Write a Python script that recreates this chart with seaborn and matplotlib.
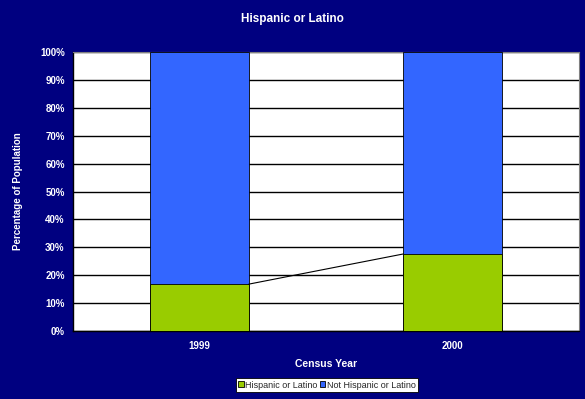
import matplotlib
matplotlib.use("Agg")
import matplotlib.pyplot as plt
import seaborn as sns
import pandas as pd
import numpy as np
from matplotlib.ticker import PercentFormatter
from matplotlib.patches import Patch

years = ["1999", "2000"]
hispanic = [16.8, 27.6]
not_hispanic = [83.2, 72.4]
series_names = ["Hispanic or Latino", "Not Hispanic or Latino"]
title = "Hispanic or Latino"
xlabel = "Census Year"
ylabel = "Percentage of Population"

BG = "#000080"
GREEN = "#99CC00"
BLUE = "#3366FF"

sns.set_theme(style="white")
plt.rcParams['font.family'] = ['Liberation Sans', 'DejaVu Sans']

df = pd.DataFrame({"year": years, "hisp": hispanic,
                   "total": np.array(hispanic) + np.array(not_hispanic)})

fig = plt.figure(figsize=(5.85, 3.99), dpi=100, facecolor=BG)
ax = fig.add_axes([73/585, 1-331/399, 506/585, 279/399])
ax.set_facecolor("white")

bw = 0.39
sns.barplot(data=df, x="year", y="total", color=BLUE, width=bw, ax=ax,
            saturation=1, edgecolor="black", linewidth=0.6, zorder=3)
sns.barplot(data=df, x="year", y="hisp", color=GREEN, width=bw, ax=ax,
            saturation=1, edgecolor="black", linewidth=0.6, zorder=3)

# series line connecting top of green segments
ax.plot([0 + bw/2, 1 - bw/2], hispanic, color="black", lw=0.8, zorder=4)

ax.set_xlim(-0.5, 1.5)
ax.set_ylim(0, 100)
ax.set_yticks(np.arange(0, 101, 10))
ax.yaxis.set_major_formatter(PercentFormatter(decimals=0))
ax.grid(axis="y", color="black", lw=1, zorder=0)
ax.set_axisbelow(True)
for s in ["top", "right"]:
    ax.spines[s].set_color("#808080")
    ax.spines[s].set_linewidth(0.8)
for s in ["left", "bottom"]:
    ax.spines[s].set_color("black")
    ax.spines[s].set_linewidth(1)

ax.tick_params(axis="both", colors="white", labelsize=7, length=0, pad=6)
for lab in ax.get_xticklabels() + ax.get_yticklabels():
    lab.set_fontweight("bold")
    lab.set_color("white")
ax.tick_params(axis="x", pad=7)

ax.set_xlabel(xlabel, color="white", fontsize=7.5, fontweight="bold", labelpad=6)
ax.set_ylabel(ylabel, color="white", fontsize=7, fontweight="bold")
ax.yaxis.set_label_coords(-(73 - 23) / 506, 0.5)
fig.text(0.5, 1-19/399, title, color="white", fontsize=8.5, fontweight="bold",
         ha="center", va="center")

handles = [Patch(facecolor=GREEN, edgecolor="black", lw=0.6),
           Patch(facecolor=BLUE, edgecolor="black", lw=0.6)]
leg = fig.legend(handles, series_names, loc="center", ncol=2,
                 bbox_to_anchor=(327/585, 1-385/399), fontsize=6.5,
                 frameon=True, fancybox=False, edgecolor="black", framealpha=1,
                 handlelength=0.6, handleheight=0.6, handletextpad=0.2,
                 columnspacing=0.2, borderpad=0.3, borderaxespad=0)
leg.get_frame().set_facecolor("white")
leg.get_frame().set_linewidth(0.6)

fig.savefig("out.png", dpi=100, facecolor=BG)
